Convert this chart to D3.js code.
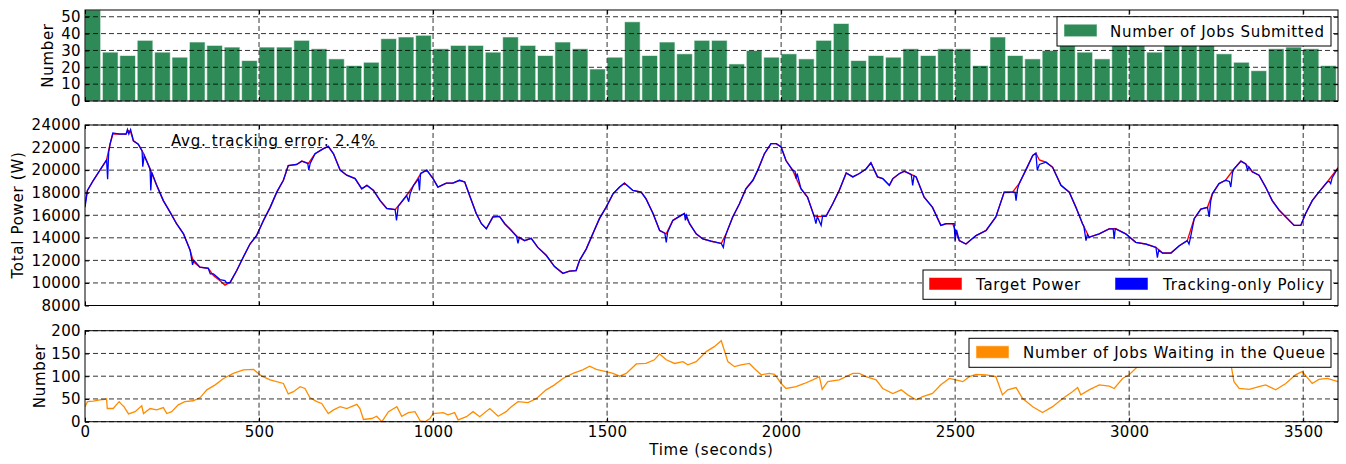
<!DOCTYPE html>
<html>
<head>
<meta charset="utf-8">
<script src="https://cdn.jsdelivr.net/npm/d3@7"></script>
<style>
body { margin: 0; background: #fff; }
svg { font-family: "DejaVu Sans", sans-serif; }
.lbl { letter-spacing: 0.7px; }
.tick text { letter-spacing: 0.35px; }
</style>
</head>
<body>
<svg id="chart" width="1346" height="464"></svg>
<script>
// jobs submitted per 50 s window
const jobsSubmitted = [54, 29, 27, 36, 29, 26, 35, 33, 32, 24, 32, 32, 36, 31, 25, 21, 23, 37, 38, 39,
	31, 33, 33, 29, 38, 33, 27, 35, 31, 19, 26, 47, 27, 35, 28, 36, 36, 22, 30, 26,
	28, 25, 36, 46, 24, 27, 26, 31, 27, 31, 31, 21, 38, 27, 25, 30, 34, 29, 25, 35,
	33, 29, 33, 36, 33, 28, 23, 18, 31, 32, 31, 21];
const binSeconds = 50;

// [time (s), power (W)]
const targetPower = [[0,17000],[7,18200],[24,19100],[43,20000],[62,20900],[72,22300],[80,23200],[100,23200],[118,23200],[124,23500],[131,23400],[139,22600],[153,22300],[168,21500],[187,20100],[206,18650],[225,17300],[244,16300],[263,15250],[283,14350],[302,12900],[311,11900],[330,11400],[354,11300],[369,10650],[388,10200],[402,9800],[417,10050],[436,11100],[455,12300],[474,13450],[493,14200],[513,15550],[532,16700],[551,18050],[570,19100],[584,20400],[608,20500],[623,20800],[642,20600],[661,21450],[685,21900],[699,22100],[714,21450],[733,20000],[752,19550],[776,19250],[795,18350],[810,18650],[829,18200],[848,17300],[867,16600],[891,16500],[905,17000],[924,17750],[944,18650],[965,19700],[982,20000],[1000,19250],[1014,18500],[1038,18850],[1057,18850],[1076,19100],[1091,18950],[1105,17750],[1124,16150],[1139,15250],[1153,14800],[1172,15850],[1191,15900],[1206,15250],[1225,14650],[1244,14050],[1263,13750],[1282,13950],[1301,13150],[1325,12450],[1349,11450],[1373,10850],[1392,11050],[1411,11100],[1421,12000],[1440,13000],[1459,14350],[1478,15700],[1497,16700],[1517,17900],[1536,18500],[1550,18850],[1574,18200],[1598,18050],[1612,17450],[1632,16150],[1651,14650],[1670,14350],[1689,15550],[1708,15900],[1722,16150],[1737,15250],[1756,14350],[1775,13900],[1799,13700],[1828,13500],[1842,14350],[1861,15850],[1880,17000],[1899,18350],[1919,19100],[1933,20000],[1952,21450],[1971,22350],[1986,22350],[2000,22050],[2014,20850],[2033,20000],[2057,18350],[2076,17600],[2095,15900],[2129,15900],[2148,17000],[2167,18200],[2187,19750],[2206,19400],[2225,19700],[2244,20100],[2258,20650],[2277,19400],[2292,19250],[2311,18650],[2321,19250],[2340,19700],[2354,19900],[2368,19700],[2388,19400],[2411,17600],[2435,16700],[2459,15100],[2474,15250],[2493,15250],[2512,13750],[2531,13450],[2560,14200],[2589,14650],[2617,15850],[2641,18050],[2665,18050],[2684,18800],[2703,20000],[2723,21300],[2732,21500],[2742,20900],[2761,20700],[2780,20250],[2804,18650],[2828,18050],[2847,16700],[2866,15250],[2885,14050],[2914,14350],[2943,14800],[2962,14800],[2990,14350],[3019,13600],[3048,13450],[3077,13150],[3096,12650],[3120,12650],[3144,13300],[3167,13750],[3187,15700],[3206,16550],[3225,16700],[3239,17900],[3258,18800],[3277,19100],[3301,20100],[3321,20800],[3335,20550],[3354,19850],[3373,19550],[3392,18500],[3411,17300],[3431,16450],[3455,15700],[3474,15100],[3493,15100],[3507,16150],[3526,17300],[3545,18050],[3569,18950],[3600,20200]];

const trackingPower = [[0,16700],[7,18200],[24,19100],[43,20000],[62,20900],[65,19200],[68,21600],[72,22300],[80,23300],[100,23200],[118,23200],[122,23600],[126,23200],[131,23600],[136,23000],[139,22600],[153,22300],[164,21700],[166,20300],[170,21300],[187,20100],[189,18200],[192,19800],[206,18650],[225,17300],[244,16300],[263,15250],[283,14350],[302,12900],[309,11600],[313,12000],[330,11400],[354,11300],[360,10800],[369,10800],[388,10300],[402,10200],[407,10000],[417,10050],[436,11100],[455,12300],[474,13450],[493,14200],[513,15550],[532,16700],[551,18050],[570,19100],[584,20400],[608,20500],[623,20800],[640,20600],[643,20000],[647,20600],[661,21450],[685,21900],[699,22100],[714,21450],[733,20000],[752,19550],[776,19250],[795,18350],[810,18650],[829,18200],[848,17300],[867,16600],[891,16500],[895,15550],[900,16800],[924,17750],[930,17200],[934,17900],[944,18650],[958,19200],[961,18200],[964,19700],[982,20000],[1000,19250],[1014,18500],[1038,18850],[1057,18850],[1076,19100],[1091,18950],[1105,17750],[1124,16150],[1139,15250],[1153,14800],[1172,15850],[1191,15900],[1206,15250],[1225,14650],[1240,14100],[1244,13500],[1248,14050],[1263,13750],[1282,13950],[1301,13150],[1325,12450],[1349,11450],[1373,10850],[1392,11050],[1411,11100],[1421,12000],[1440,13000],[1459,14350],[1478,15700],[1497,16700],[1517,17900],[1536,18500],[1550,18850],[1574,18200],[1598,18050],[1612,17450],[1632,16150],[1651,14650],[1666,14400],[1670,13600],[1674,14500],[1689,15550],[1708,15900],[1722,16150],[1725,15550],[1728,16000],[1737,15250],[1756,14350],[1775,13900],[1799,13700],[1828,13500],[1834,13150],[1838,13900],[1842,14350],[1861,15850],[1880,17000],[1899,18350],[1919,19100],[1933,20000],[1952,21450],[1971,22350],[1986,22350],[2000,22050],[2014,20850],[2033,20000],[2040,19900],[2043,19250],[2046,19700],[2057,18350],[2076,17600],[2095,15900],[2100,15250],[2104,15900],[2115,15100],[2119,15900],[2129,15900],[2148,17000],[2167,18200],[2187,19750],[2206,19400],[2225,19700],[2244,20100],[2258,20650],[2277,19400],[2292,19250],[2311,18650],[2321,19250],[2340,19700],[2354,19900],[2368,19700],[2374,19600],[2378,18650],[2382,19500],[2388,19400],[2411,17600],[2435,16700],[2459,15100],[2474,15250],[2493,15250],[2497,15250],[2500,13750],[2504,14700],[2512,13750],[2531,13450],[2560,14200],[2589,14650],[2617,15850],[2641,18050],[2665,18050],[2672,18050],[2675,17300],[2679,18300],[2684,18800],[2703,20000],[2723,21300],[2732,21500],[2736,20000],[2742,20500],[2761,20700],[2780,20250],[2804,18650],[2828,18050],[2847,16700],[2866,15250],[2870,15000],[2876,13750],[2880,14300],[2885,14050],[2914,14350],[2943,14800],[2954,14800],[2957,13900],[2960,14800],[2990,14350],[3019,13600],[3048,13450],[3077,13150],[3081,12250],[3085,12900],[3096,12650],[3120,12650],[3144,13300],[3167,13750],[3172,13450],[3176,14000],[3187,15700],[3206,16550],[3225,16700],[3230,15850],[3234,17200],[3239,17900],[3258,18800],[3277,19100],[3288,19000],[3292,18500],[3297,19800],[3301,20100],[3321,20800],[3335,20550],[3340,20000],[3344,20300],[3354,19850],[3373,19550],[3392,18500],[3411,17300],[3431,16450],[3455,15700],[3474,15100],[3493,15100],[3507,16150],[3526,17300],[3545,18050],[3569,18950],[3575,19000],[3579,18800],[3583,19300],[3600,20200]];

// [time (s), jobs waiting]
const queueLength = [[0,33],[7,44],[24,45],[43,48],[57,49],[62,50],[64,29],[81,29],[98,44],[105,38],[112,33],[125,17],[144,22],[163,35],[168,18],[187,29],[206,26],[225,31],[235,18],[249,22],[268,37],[287,44],[311,46],[331,53],[350,70],[374,81],[398,95],[426,106],[455,114],[484,115],[508,100],[532,92],[570,84],[584,61],[599,66],[618,77],[632,73],[646,53],[666,44],[680,40],[699,18],[714,26],[733,33],[752,29],[781,38],[790,29],[800,5],[824,7],[838,12],[853,0],[872,22],[896,33],[910,12],[929,20],[948,22],[963,2],[977,0],[991,7],[1000,18],[1029,20],[1043,15],[1062,20],[1072,4],[1096,11],[1115,22],[1134,11],[1163,29],[1187,12],[1210,22],[1225,33],[1244,44],[1273,42],[1297,51],[1325,70],[1349,81],[1373,95],[1402,106],[1430,114],[1450,122],[1469,115],[1497,110],[1517,106],[1536,100],[1555,106],[1584,127],[1612,128],[1636,136],[1651,149],[1670,136],[1694,128],[1718,132],[1732,125],[1756,132],[1785,154],[1808,165],[1828,178],[1847,132],[1866,121],[1885,125],[1909,128],[1923,117],[1943,103],[1966,106],[1981,104],[1990,95],[2000,84],[2014,73],[2043,77],[2067,84],[2091,92],[2110,99],[2118,71],[2134,88],[2167,92],[2206,106],[2225,106],[2244,99],[2273,92],[2292,73],[2321,62],[2345,70],[2364,59],[2388,48],[2407,55],[2435,62],[2459,81],[2483,95],[2502,92],[2522,88],[2541,99],[2560,104],[2589,103],[2617,99],[2636,59],[2651,70],[2675,75],[2694,51],[2723,33],[2751,20],[2780,33],[2809,51],[2837,66],[2852,75],[2861,59],[2885,70],[2914,81],[2943,78],[2957,73],[2981,95],[3000,103],[3024,121],[3038,150],[3070,160],[3120,168],[3170,162],[3220,170],[3260,165],[3288,160],[3292,128],[3301,88],[3316,73],[3345,71],[3373,77],[3392,81],[3421,70],[3450,84],[3478,103],[3497,110],[3526,84],[3545,93],[3569,95],[3600,88]];

const timeTicks = [0, 500, 1000, 1500, 2000, 2500, 3000, 3500];
const jobTicks = [0, 10, 20, 30, 40, 50];
const powerTicks = [8000, 10000, 12000, 14000, 16000, 18000, 20000, 22000, 24000];
const queueTicks = [0, 50, 100, 150, 200];

const svg = d3.select("#chart");
const left = 85, right = 1338;
const x = d3.scaleLinear().domain([0, 3600]).range([left, right]);

const yJobs = d3.scaleLinear().domain([0, 54]).range([101, 10]);
const yPower = d3.scaleLinear().domain([8000, 24000]).range([305.5, 125]);
const yQueue = d3.scaleLinear().domain([0, 200]).range([421.7, 330.7]);

function panel(id, y, yTicks, showX) {
	const [y0, y1] = y.range();
	svg.append("clipPath").attr("id", id)
		.append("rect").attr("x", left).attr("y", y1).attr("width", right - left).attr("height", y0 - y1);
	const g = svg.append("g");
	const marks = g.append("g").attr("clip-path", `url(#${id})`);
	return {g, marks, y, y0, y1, yTicks, showX};
}

function finish(p) {
	const g = p.g;
	// grid on top of the marks, as in the original
	const grid = g.append("g").attr("stroke", "#000").attr("stroke-width", 0.8).attr("stroke-dasharray", "5,3");
	grid.selectAll(".gx").data(timeTicks.slice(1)).enter().append("line")
		.attr("x1", d => x(d)).attr("x2", d => x(d)).attr("y1", p.y1).attr("y2", p.y0);
	grid.selectAll(".gy").data(p.yTicks).enter().append("line")
		.attr("x1", left).attr("x2", right).attr("y1", d => p.y(d)).attr("y2", d => p.y(d));

	const yl = g.append("g").attr("transform", `translate(${left},0)`)
		.call(d3.axisLeft(p.y).tickValues(p.yTicks).tickSize(-4).tickPadding(4).tickFormat(d3.format("d")));
	const yr = g.append("g").attr("transform", `translate(${right},0)`)
		.call(d3.axisRight(p.y).tickValues(p.yTicks).tickSize(-4).tickFormat(""));
	const xt = g.append("g").attr("transform", `translate(0,${p.y1})`)
		.call(d3.axisTop(x).tickValues(timeTicks).tickSize(-4).tickFormat(""));
	const xb = g.append("g").attr("transform", `translate(0,${p.y0})`)
		.call(d3.axisBottom(x).tickValues(timeTicks).tickSize(-4).tickPadding(5).tickFormat(p.showX ? d3.format("d") : ""));
	[yl, yr, xt, xb].forEach(a => {
		a.select(".domain").remove();
		a.selectAll("text").attr("font-size", 15).attr("font-family", "DejaVu Sans").attr("fill", "#000");
		a.selectAll("line").attr("stroke", "#000");
	});
	g.append("rect").attr("x", left).attr("y", p.y1).attr("width", right - left).attr("height", p.y0 - p.y1)
		.attr("fill", "none").attr("stroke", "#000").attr("stroke-width", 1);
}

function legend(x0, y0, w, h, items) {
	const lg = svg.append("g");
	lg.append("rect").attr("x", x0).attr("y", y0).attr("width", w).attr("height", h)
		.attr("fill", "#fff").attr("stroke", "#000").attr("stroke-width", 1);
	items.forEach(it => {
		lg.append("rect").attr("x", it.px).attr("y", y0 + 7.5).attr("width", 33).attr("height", 12.5)
			.attr("fill", it.color).attr("stroke", "#fff").attr("stroke-opacity", 0.5);
		lg.append("text").attr("class", "lbl").attr("x", it.tx).attr("y", y0 + 20)
			.attr("font-size", 15).attr("fill", "#000").text(it.label);
	});
}

// top: jobs submitted
const p1 = panel("clip1", yJobs, jobTicks, false);
p1.marks.selectAll("rect.bar").data(jobsSubmitted).enter().append("rect")
	.attr("class", "bar")
	.attr("x", (d, i) => x(i * binSeconds))
	.attr("y", d => yJobs(d))
	.attr("width", x(binSeconds * 0.9) - x(0))
	.attr("height", d => yJobs(0) - yJobs(d))
	.attr("fill", "#2e8b57")
	.attr("stroke", "#fff").attr("stroke-opacity", 0.6).attr("stroke-width", 1);
finish(p1);
legend(1057, 16.7, 274, 29.3, [{px: 1064, tx: 1110, color: "#2e8b57", label: "Number of Jobs Submitted"}]);

// middle: power
const p2 = panel("clip2", yPower, powerTicks, false);
const powerLine = d3.line().x(d => x(d[0])).y(d => yPower(d[1]));
p2.marks.append("path").datum(targetPower).attr("d", powerLine)
	.attr("fill", "none").attr("stroke", "#ff0000").attr("stroke-width", 1.4);
p2.marks.append("path").datum(trackingPower).attr("d", powerLine)
	.attr("fill", "none").attr("stroke", "#0000ff").attr("stroke-width", 1.3);
finish(p2);
svg.append("text").attr("class", "lbl").attr("x", 171).attr("y", 146).attr("font-size", 15).attr("fill", "#000")
	.text("Avg. tracking error: 2.4%");
legend(923, 270, 408, 29.3, [
	{px: 929, tx: 976, color: "#ff0000", label: "Target Power"},
	{px: 1115, tx: 1163, color: "#0000ff", label: "Tracking-only Policy"}
]);

// bottom: queue
const p3 = panel("clip3", yQueue, queueTicks, true);
const queueLine = d3.line().x(d => x(d[0])).y(d => yQueue(d[1]));
p3.marks.append("path").datum(queueLength).attr("d", queueLine)
	.attr("fill", "none").attr("stroke", "#ff8c00").attr("stroke-width", 1.3);
finish(p3);
legend(969, 338.3, 362, 29, [{px: 976, tx: 1023, color: "#ff8c00", label: "Number of Jobs Waiting in the Queue"}]);

// axis labels
svg.append("text").attr("class", "lbl").attr("transform", "translate(53,55.5) rotate(-90)").attr("text-anchor", "middle")
	.attr("font-size", 15).text("Number");
svg.append("text").attr("class", "lbl").attr("transform", "translate(23,215) rotate(-90)").attr("text-anchor", "middle")
	.attr("font-size", 15).text("Total Power (W)");
svg.append("text").attr("class", "lbl").attr("transform", "translate(45,376) rotate(-90)").attr("text-anchor", "middle")
	.attr("font-size", 15).text("Number");
svg.append("text").attr("class", "lbl").attr("x", 711.5).attr("y", 455).attr("text-anchor", "middle")
	.attr("font-size", 15).text("Time (seconds)");
</script>
</body>
</html>
